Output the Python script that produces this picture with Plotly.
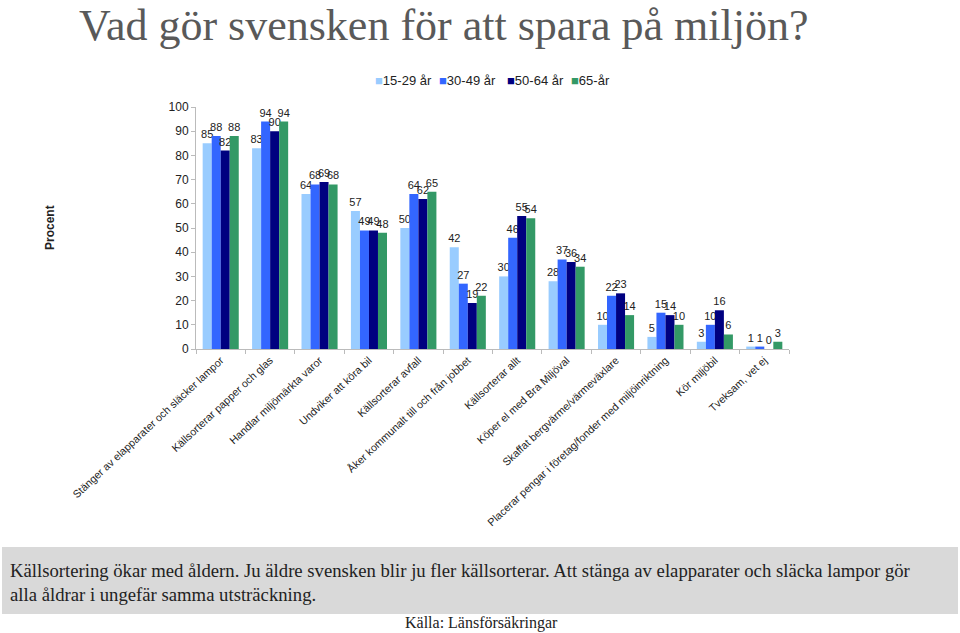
import plotly.graph_objects as go

categories = [
    "Stänger av elapparater och släcker lampor",
    "Källsorterar papper och glas",
    "Handlar miljömärkta varor",
    "Undviker att köra bil",
    "Källsorterar avfall",
    "Åker kommunalt till och från jobbet",
    "Källsorterar allt",
    "Köper el med Bra Miljöval",
    "Skaffat bergvärme/värmeväxlare",
    "Placerar pengar i företag/fonder med miljöinriktning",
    "Kör miljöbil",
    "Tveksam, vet ej",
]
series_names = ["15-29 år", "30-49 år", "50-64 år", "65-år"]
age_15_29 = [85, 83, 64, 57, 50, 42, 30, 28, 10, 5, 3, 1]
age_30_49 = [88, 94, 68, 49, 64, 27, 46, 37, 22, 15, 10, 1]
age_50_64 = [82, 90, 69, 49, 62, 19, 55, 36, 23, 14, 16, 0]
age_65 = [88, 94, 68, 48, 65, 22, 54, 34, 14, 10, 6, 3]
colors = ["#99CCFF", "#3366FF", "#000080", "#339966"]

W, H = 960, 633
L, R, T, B = 196, 789, 107, 349

def px(x):
    return (x - L) / (R - L)

def py(y):
    return (B - y) / (B - T)

fig = go.Figure()
for name, vals, c in zip(series_names, [age_15_29, age_30_49, age_50_64, age_65], colors):
    fig.add_trace(go.Bar(
        x=categories, y=vals, name=name, marker_color=c, marker_line_width=0,
        text=[str(v) for v in vals], textposition="outside", constraintext="none",
        textfont=dict(family="Liberation Sans, Arial", size=11, color="#222"),
        cliponaxis=False, showlegend=False,
    ))

# legend drawn as text items
legend_x = [373, 437, 505, 569]
annotations = []
for name, c, lx in zip(series_names, colors, legend_x):
    annotations.append(dict(
        text=f"<span style='color:{c}'>■</span>{name}", xref="paper", yref="paper",
        x=px(lx), y=py(80), xanchor="left", yanchor="middle", showarrow=False,
        font=dict(family="Liberation Sans, Arial", size=13, color="#222")))

annotations += [
    dict(text="Vad gör svensken för att spara på miljön?", xref="paper", yref="paper",
         x=px(77), y=py(26), xanchor="left", yanchor="middle", showarrow=False,
         font=dict(family="Liberation Serif, Times New Roman", size=44, color="#595959")),
    dict(text="<b>Procent</b>", xref="paper", yref="paper", x=px(50), y=py(228),
         xanchor="center", yanchor="middle", showarrow=False, textangle=-90,
         font=dict(size=12, color="#222")),
    dict(text="Källsortering ökar med åldern. Ju äldre svensken blir ju fler källsorterar. Att stänga av elapparater och släcka lampor gör<br>alla åldrar i ungefär samma utsträckning.",
         xref="paper", yref="paper", x=px(8), y=py(582), xanchor="left", yanchor="middle",
         align="left", showarrow=False,
         font=dict(family="Liberation Serif, Times New Roman", size=18.7, color="#222")),
    dict(text="Källa: Länsförsäkringar", xref="paper", yref="paper", x=px(481), y=py(623),
         xanchor="center", yanchor="middle", showarrow=False,
         font=dict(family="Liberation Serif, Times New Roman", size=16, color="#222")),
]

fig.update_layout(
    width=W, height=H,
    margin=dict(l=L, r=W - R, t=T, b=H - B, pad=0),
    plot_bgcolor="white", paper_bgcolor="white",
    barmode="group", bargap=0.27, bargroupgap=0,
    font=dict(family="Liberation Sans, Arial", size=11, color="#222"),
    showlegend=False,
    xaxis=dict(showgrid=False, showline=True, linecolor="#bbbbbb", ticks="outside",
               tickson="boundaries", ticklen=4, tickcolor="#bbbbbb", tickangle=-43,
               tickfont=dict(size=10.7, color="#222")),
    yaxis=dict(range=[0, 100], dtick=10, showgrid=False, showline=True, linecolor="#bbbbbb",
               ticks="outside", ticklen=4, tickcolor="#bbbbbb", zeroline=False,
               tickfont=dict(size=12, color="#222")),
    shapes=[dict(type="rect", xref="paper", yref="paper", x0=px(2), x1=px(958),
                 y0=py(614), y1=py(547), fillcolor="#d9d9d9", line_width=0, layer="below")],
    annotations=annotations,
)

fig.write_html("out.html", config={"displayModeBar": False},
               post_script="document.body.style.margin='0';document.body.style.overflow='hidden';")
